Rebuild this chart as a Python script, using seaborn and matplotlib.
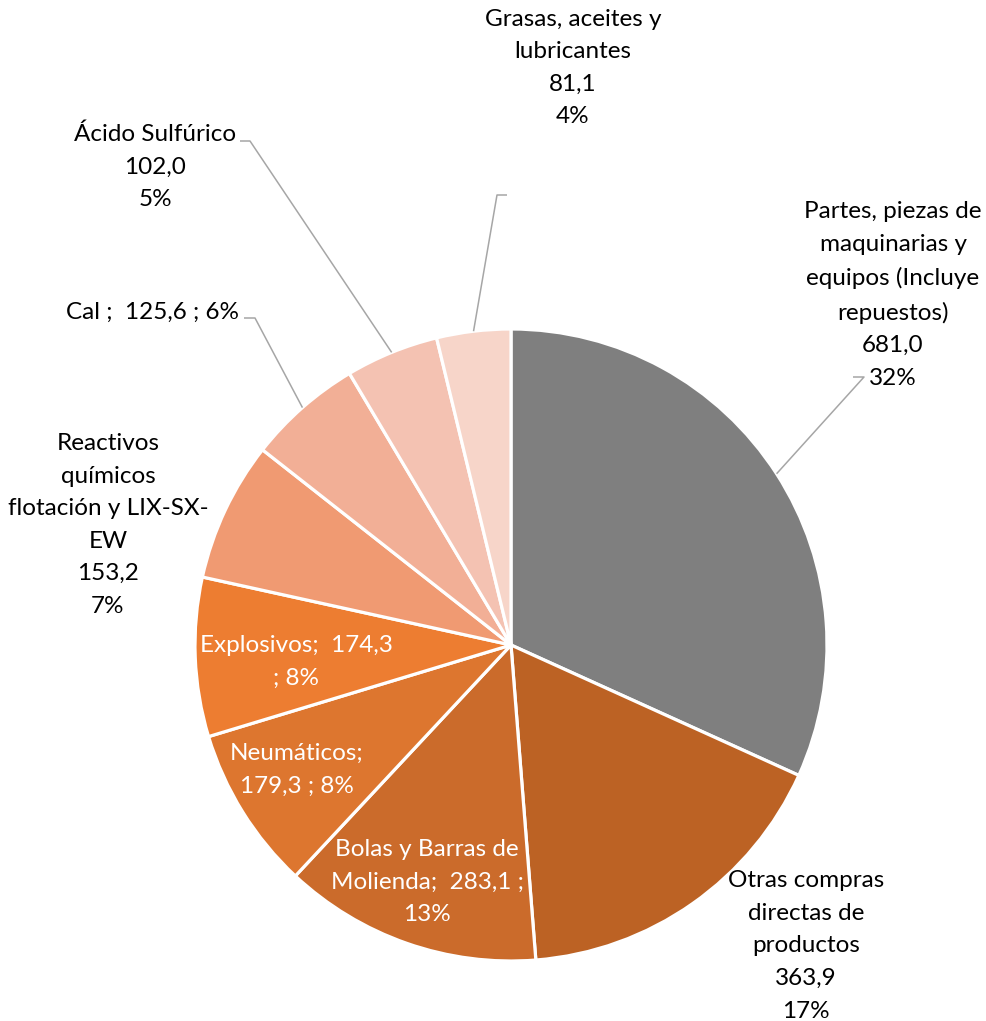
import matplotlib
matplotlib.use("Agg")
import matplotlib.pyplot as plt
import numpy as np
import seaborn as sns

# data
categorias = [
    "Partes, piezas de\nmaquinarias y\nequipos (Incluye\nrepuestos)",
    "Otras compras\ndirectas de\nproductos",
    "Bolas y Barras de\nMolienda;",
    "Neumáticos;",
    "Explosivos;",
    "Reactivos\nquímicos\nflotación y LIX-SX-\nEW",
    "Cal ;",
    "Ácido Sulfúrico",
    "Grasas, aceites y\nlubricantes",
]
valores = [681.0, 363.9, 283.1, 179.3, 174.3, 153.2, 125.6, 102.0, 81.1]
colores = ["#7F7F7F", "#BC6224", "#CB6B2B", "#DD762F", "#ED7D31",
           "#F09A72", "#F2AF96", "#F4C2B2", "#F7D5C9"]

sns.set_theme(style="white")
plt.rcParams["font.family"] = ["Lato", "DejaVu Sans"]

W, H = 987, 1021
fig = plt.figure(figsize=(W / 100, H / 100), dpi=100)
ax = fig.add_axes([0, 0, 1, 1])

cx, cy, r = 511, 645, 316
wedges, _ = ax.pie(valores, colors=colores, startangle=-90, counterclock=True,
                   center=(cx, cy), radius=r, frame=True,
                   wedgeprops=dict(edgecolor="white", linewidth=2.3))
ax.set_xlim(0, W)
ax.set_ylim(H, 0)
ax.set_aspect("equal")
ax.axis("off")

total = sum(valores)
pct = [round(v / total * 100) for v in valores]

def fmt(v):
    return f"{v:.1f}".replace(".", ",")

fs = 17.5
ls = 1.68

# outside labels (stacked)
textos = {
    0: f"{categorias[0]}\n{fmt(valores[0])}\n{pct[0]}%",
    1: f"{categorias[1]}\n{fmt(valores[1])}\n{pct[1]}%",
    5: f"{categorias[5]}\n{fmt(valores[5])}\n{pct[5]}%",
    7: f"{categorias[7]}\n{fmt(valores[7])}\n{pct[7]}%",
    8: f"{categorias[8]}\n{fmt(valores[8])}\n{pct[8]}%",
}
pos = {0: (893, 295), 1: (806, 946), 5: (108, 525), 7: (155, 167), 8: (573, 68)}
for i, t in textos.items():
    ax.text(*pos[i], t, ha="center", va="center", fontsize=fs,
            linespacing=ls, color="black")

ax.text(239, 312, f"{categorias[6]}  {fmt(valores[6])} ; {pct[6]}%",
        ha="right", va="center", fontsize=fs, color="black")

# inside labels
ax.text(296, 662, f"{categorias[4]}  {fmt(valores[4])}\n; {pct[4]}%",
        ha="center", va="center", fontsize=fs, linespacing=ls, color="white")
ax.text(297, 770, f"{categorias[3]}\n{fmt(valores[3])} ; {pct[3]}%",
        ha="center", va="center", fontsize=fs, linespacing=ls, color="white")
ax.text(427, 882, f"{categorias[2]}  {fmt(valores[2])} ;\n{pct[2]}%",
        ha="center", va="center", fontsize=fs, linespacing=ls, color="white")

# leader lines: anchor on wedge edge at mid angle
codo = {0: ((864, 377), (853, 377)), 7: ((250, 141), (240, 141)),
        6: ((255, 318), (244, 318)), 8: ((497, 195), (507, 195))}
for i, (p1, p2) in codo.items():
    w = wedges[i]
    ang = np.deg2rad((w.theta1 + w.theta2) / 2)
    ax_, ay_ = cx + r * np.cos(ang), cy + r * np.sin(ang)
    ax.plot([ax_, p1[0], p2[0]], [ay_, p1[1], p2[1]], color="#A6A6A6",
            lw=1.1, solid_capstyle="butt")

fig.savefig("out.png", dpi=100, facecolor="white")
